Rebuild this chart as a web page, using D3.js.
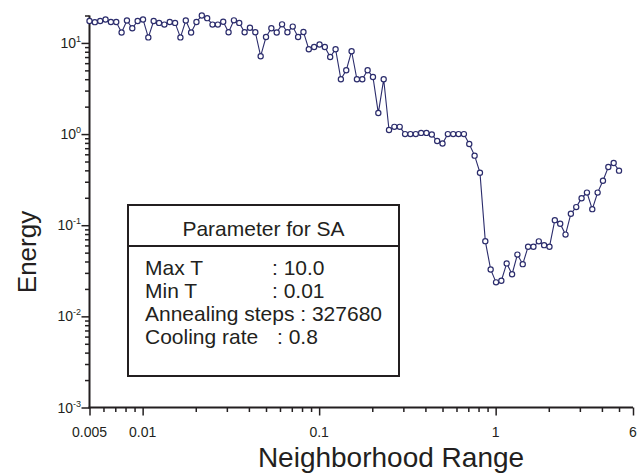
<!DOCTYPE html>
<html>
    <head>
        <title>Energy vs neighborhood range</title>
        <meta charset="UTF-8">
        <script src="https://cdnjs.cloudflare.com/ajax/libs/d3/7.9.0/d3.min.js"></script>
        <style>
            html, body {
                margin: 0;
                padding: 0;
                background: #fff;
                font-family: 'Liberation Sans', Arial, Helvetica, sans-serif;
            }
            .chart text {
                fill: #231f20;
            }
        </style>
    </head>
    <body>
        <div class="chart"></div>
        <script>
            // neighborhood range, one value per run
            let rangeValues = [
                0.005, 0.005361, 0.005749, 0.006164, 0.00661, 0.007087, 0.007599, 0.008149, 0.008737, 0.009369,
                0.01005, 0.01077, 0.01155, 0.01239, 0.01328, 0.01424, 0.01527, 0.01637, 0.01756, 0.01882,
                0.02018, 0.02164, 0.02321, 0.02488, 0.02668, 0.02861, 0.03068, 0.0329, 0.03527, 0.03782,
                0.04055, 0.04349, 0.04663, 0.05, 0.05361, 0.05749, 0.06164, 0.0661, 0.07087, 0.07599,
                0.08149, 0.08737, 0.09369, 0.1005, 0.1077, 0.1155, 0.1239, 0.1328, 0.1424, 0.1527,
                0.1637, 0.1756, 0.1882, 0.2018, 0.2164, 0.2321, 0.2488, 0.2668, 0.2861, 0.3068,
                0.329, 0.3527, 0.3782, 0.4055, 0.4349, 0.4663, 0.5, 0.5361, 0.5749, 0.6164,
                0.661, 0.7087, 0.7599, 0.8149, 0.8737, 0.9369, 1.005, 1.077, 1.155, 1.239,
                1.328, 1.424, 1.527, 1.637, 1.756, 1.882, 2.018, 2.164, 2.321, 2.488,
                2.668, 2.861, 3.068, 3.29, 3.527, 3.782, 4.055, 4.349, 4.663, 5.0
            ];
            // energy
            let energyValues = [
                17.4, 16.9, 17.4, 18.1, 17.0, 17.0, 13.0, 17.6, 14.5, 17.4,
                18.1, 11.5, 17.4, 16.6, 15.9, 17.0, 16.6, 11.5, 17.6, 13.0,
                17.0, 20.0, 18.7, 15.9, 15.9, 17.1, 13.1, 17.7, 16.6, 13.1,
                14.7, 13.1, 7.15, 11.6, 14.5, 13.0, 16.0, 13.1, 15.1, 11.6,
                13.2, 8.53, 9.04, 9.6, 9.04, 7.02, 8.53, 3.99, 5.01, 8.11,
                3.99, 3.99, 5.01, 4.23, 1.70, 3.99, 1.11, 1.20, 1.20, 1.00,
                1.00, 1.00, 1.03, 1.03, 0.99, 0.839, 0.788, 1.00, 1.00, 1.00,
                1.00, 0.778, 0.58, 0.377, 0.0669, 0.0327, 0.0236, 0.0246, 0.0381, 0.029,
                0.0476, 0.0374, 0.0581, 0.0581, 0.0665, 0.0604, 0.0581, 0.1136, 0.1039, 0.0789,
                0.1338, 0.158, 0.198, 0.228, 0.150, 0.228, 0.308, 0.435, 0.481, 0.397
            ];

            let xTickValues = [0.005, 0.01, 0.1, 1, 6];
            let xTickLabels = ['0.005', '0.01', '0.1', '1', '6'];
            let yTickExponents = [-3, -2, -1, 0, 1];

            let paramNames = ['Max T', 'Min T', 'Annealing steps', 'Cooling rate'];
            let paramValues = ['10.0', '0.01', '327680', '0.8'];

            let w = 639;
            let h = 474;
            let ink = '#231f20';
            let navy = '#2b2c6c';

            let svg = d3.select('.chart').append('svg')
                    .attr('width', w)
                    .attr('height', h);

            let x = d3.scaleLog()
                    .domain([0.005, 6])
                    .range([89.5, 633]);

            let y = d3.scaleLog()
                    .domain([0.001, 20])
                    .range([407.5, 15.5]);

            let data = rangeValues.map((v, i) => ({x: v, y: energyValues[i]}));

            // minor ticks
            let minorX = x.ticks().filter(t => xTickValues.indexOf(+t.toPrecision(3)) < 0);
            svg.append('g')
                .attr('transform', 'translate(0,407.5)')
                .call(d3.axisBottom(x).tickValues(minorX).tickSize(4.5).tickSizeOuter(0).tickFormat(''))
                .call(g => g.select('.domain').remove())
                .selectAll('line').attr('stroke', ink).attr('stroke-width', 1.5);

            svg.append('g')
                .attr('transform', 'translate(0,407.5)')
                .call(d3.axisBottom(x).tickValues(xTickValues).tickSize(8).tickSizeOuter(0).tickFormat(''))
                .call(g => g.select('.domain').remove())
                .selectAll('line').attr('stroke', ink).attr('stroke-width', 1.5);

            let majorY = yTickExponents.map(e => Math.pow(10, e));
            let minorY = y.ticks().filter(t => majorY.every(m => Math.abs(m - t) / m > 1e-6));
            svg.append('g')
                .attr('transform', 'translate(89.5,0)')
                .call(d3.axisLeft(y).tickValues(minorY).tickSize(4.5).tickSizeOuter(0).tickFormat(''))
                .call(g => g.select('.domain').remove())
                .selectAll('line').attr('stroke', ink).attr('stroke-width', 1.5);

            svg.append('g')
                .attr('transform', 'translate(89.5,0)')
                .call(d3.axisLeft(y).tickValues(majorY).tickSize(8).tickSizeOuter(0).tickFormat(''))
                .call(g => g.select('.domain').remove())
                .selectAll('line').attr('stroke', ink).attr('stroke-width', 1.5);

            // axis lines
            svg.append('line')
                .attr('x1', 89.5).attr('x2', 89.5)
                .attr('y1', y(20)).attr('y2', 408.5)
                .attr('stroke', ink).attr('stroke-width', 2);
            svg.append('line')
                .attr('x1', 88.5).attr('x2', x(6))
                .attr('y1', 407.5).attr('y2', 407.5)
                .attr('stroke', ink).attr('stroke-width', 2);

            // tick labels
            svg.append('g').selectAll('text')
                .data(xTickValues)
                .enter().append('text')
                .attr('x', d => x(d))
                .attr('y', 437)
                .attr('text-anchor', 'middle')
                .style('font-size', '14px')
                .text((d, i) => xTickLabels[i]);

            let yl = svg.append('g').selectAll('text')
                .data(yTickExponents)
                .enter().append('text')
                .attr('x', 81)
                .attr('y', d => y(Math.pow(10, d)) + 5)
                .attr('text-anchor', 'end')
                .style('font-size', '14px');
            yl.append('tspan').text('10');
            yl.append('tspan')
                .attr('dy', -6)
                .style('font-size', '9px')
                .text(d => d);

            // axis titles
            svg.append('text')
                .attr('x', 391)
                .attr('y', 467)
                .attr('text-anchor', 'middle')
                .style('font-size', '28px')
                .text('Neighborhood Range');

            svg.append('text')
                .attr('transform', 'translate(36,252) rotate(-90)')
                .attr('text-anchor', 'middle')
                .style('font-size', '26px')
                .text('Energy');

            // series
            let line = d3.line()
                    .x(d => x(d.x))
                    .y(d => y(d.y));

            svg.append('path')
                .datum(data)
                .attr('fill', 'none')
                .attr('stroke', navy)
                .attr('stroke-width', 1.1)
                .attr('d', line);

            svg.append('g').selectAll('circle')
                .data(data)
                .enter().append('circle')
                .attr('cx', d => x(d.x))
                .attr('cy', d => y(d.y))
                .attr('r', 2.6)
                .attr('fill', '#fff')
                .attr('stroke', navy)
                .attr('stroke-width', 1.2);

            // parameter box
            let box = svg.append('g');
            box.append('rect')
                .attr('x', 128).attr('y', 205)
                .attr('width', 271).attr('height', 171)
                .attr('fill', '#fff')
                .attr('stroke', ink)
                .attr('stroke-width', 2);
            box.append('line')
                .attr('x1', 128).attr('x2', 399)
                .attr('y1', 246).attr('y2', 246)
                .attr('stroke', ink)
                .attr('stroke-width', 2);
            box.append('text')
                .attr('x', 263.5)
                .attr('y', 236)
                .attr('text-anchor', 'middle')
                .style('font-size', '21px')
                .text('Parameter for SA');

            let colonX = [272, 272, 0, 277];
            let rows = box.selectAll('g.row')
                .data(paramNames)
                .enter().append('g')
                .attr('class', 'row');
            rows.append('text')
                .attr('x', 145)
                .attr('y', (d, i) => 275 + i * 23)
                .style('font-size', '21px')
                .text((d, i) => colonX[i] ? d : d + ' : ' + paramValues[i]);
            rows.filter((d, i) => colonX[i] > 0).append('text')
                .attr('x', (d, i) => colonX[paramNames.indexOf(d)])
                .attr('y', d => 275 + paramNames.indexOf(d) * 23)
                .style('font-size', '21px')
                .text(d => ': ' + paramValues[paramNames.indexOf(d)]);
        </script>
    </body>
</html>
